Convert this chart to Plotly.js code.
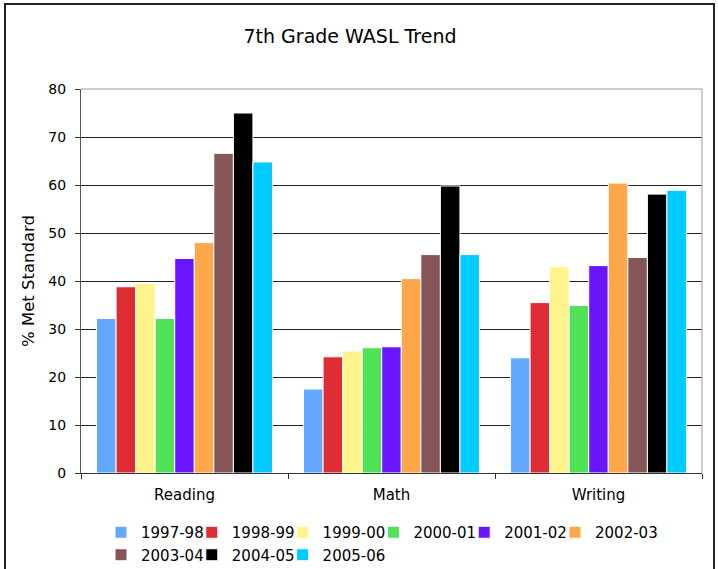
<!DOCTYPE html>
<html>
<head>
<meta charset="utf-8">
<script src="https://cdn.plot.ly/plotly-3.0.1.min.js"></script>
<style>html,body{margin:0;padding:0;background:#fff;}#chart{width:718px;height:569px;}</style>
</head>
<body>
<div id="chart"></div>
<script>
const categories = ["Reading", "Math", "Writing"];
const years = ["1997-98", "1998-99", "1999-00", "2000-01", "2001-02", "2002-03", "2003-04", "2004-05", "2005-06"];
const v1997 = [32.2, 17.5, 24.0];
const v1998 = [38.8, 24.2, 35.5];
const v1999 = [39.5, 25.4, 43.0];
const v2000 = [32.2, 26.1, 34.9];
const v2001 = [44.7, 26.3, 43.2];
const v2002 = [48.0, 40.5, 60.4];
const v2003 = [66.6, 45.5, 44.9];
const v2004 = [75.0, 59.8, 58.1];
const v2005 = [64.8, 45.5, 58.9];
const seriesValues = [v1997, v1998, v1999, v2000, v2001, v2002, v2003, v2004, v2005];
const colors = ["#62A9FF", "#DD2C34", "#FFF38C", "#50E358", "#6A14FF", "#FFA84A", "#865558", "#000000", "#00CCFF"];
const yTitle = "% Met Standard";

const nCols = 6;
const legendId = k => (k === 0 ? "legend" : "legend" + (k + 1));

const traces = years.map((y, i) => ({
  type: "bar",
  name: y,
  x: categories,
  y: seriesValues[i],
  legend: legendId(i % nCols),
  marker: { color: colors[i], line: { color: "#ffffff", width: 1 } },
  hoverinfo: "x+y+name"
}));

const L = 81, R = 702, T = 89, B = 473;
const pw = R - L, ph = B - T;
const px = v => (v - L) / pw;
const py = v => (B - v) / ph;

const layout = {
  width: 718, height: 569,
  margin: { l: L, r: 718 - R, t: T, b: 569 - B, autoexpand: false },
  paper_bgcolor: "#ffffff", plot_bgcolor: "#ffffff",
  font: { family: "DejaVu Sans, Verdana, sans-serif", color: "#000", size: 14 },
  title: { text: "7th Grade WASL Trend", xref: "container", yref: "container", x: 350 / 718, xanchor: "center", y: 1 - 36 / 569, yanchor: "middle", font: { size: 19, color: "#000" } },
  barmode: "group", bargap: 0.15, bargroupgap: 0,
  xaxis: {
    type: "category", tickson: "boundaries", ticks: "outside", ticklen: 5, tickcolor: "#333",
    showline: true, linecolor: "#333", linewidth: 1, showgrid: false,
    tickfont: { size: 15 }, ticklabelstandoff: 8, fixedrange: true
  },
  yaxis: {
    range: [0, 80], dtick: 10, ticks: "outside", ticklen: 5, tickcolor: "#333",
    showline: true, linecolor: "#555", linewidth: 1,
    showgrid: true, gridcolor: "#222", gridwidth: 1, zeroline: false,
    tickfont: { size: 14 }, ticklabelstandoff: 6,
    automargin: false, fixedrange: true
  },
  annotations: [
    { text: yTitle, xref: "paper", yref: "paper", x: px(28), y: 0.5, xanchor: "center", yanchor: "middle", textangle: -90, showarrow: false, font: { size: 16.5, color: "#000" } }
  ],
  shapes: [
    { type: "line", xref: "paper", yref: "paper", x0: 0, x1: 1, y0: 1, y1: 1, line: { color: "#999", width: 1 }, layer: "above" },
    { type: "line", xref: "paper", yref: "paper", x0: 1, x1: 1, y0: 0, y1: 1, line: { color: "#999", width: 1 }, layer: "above" },
    { type: "rect", xref: "paper", yref: "paper", x0: px(5), x1: px(714), y0: py(600), y1: py(4), line: { color: "#222", width: 2 }, fillcolor: "rgba(0,0,0,0)", layer: "above" }
  ],
  showlegend: true
};

const legendTextStart = 141, legendStep = 90.8, legendTop = 516;
for (let k = 0; k < nCols; k++) {
  layout[legendId(k)] = {
    orientation: "v", xref: "container", yref: "container",
    x: (legendTextStart - 40 + k * legendStep) / 718, xanchor: "left",
    y: 1 - legendTop / 569, yanchor: "top",
    font: { size: 15 }, bgcolor: "rgba(0,0,0,0)", borderwidth: 0,
    traceorder: "normal", itemclick: false, itemdoubleclick: false
  };
}

Plotly.newPlot("chart", traces, layout, { displayModeBar: false, staticPlot: true });
</script>
</body>
</html>
